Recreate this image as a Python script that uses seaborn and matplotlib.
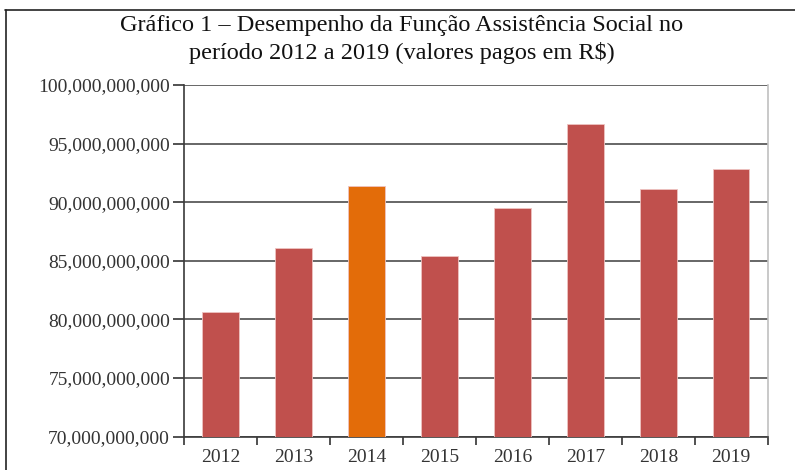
import matplotlib
matplotlib.use("Agg")
import matplotlib.pyplot as plt
import matplotlib.ticker as mticker
from matplotlib.lines import Line2D
import seaborn as sns
import pandas as pd

anos = ["2012", "2013", "2014", "2015", "2016", "2017", "2018", "2019"]
valores_bi = [80.6, 86.1, 91.4, 85.4, 89.5, 96.7, 91.1, 92.8]
destaque = ["2014"]

valores = [v * 1e9 for v in valores_bi]
df = pd.DataFrame({"ano": anos, "valor": valores,
                   "grupo": ["d" if a in destaque else "n" for a in anos]})

sns.set_theme(style="white")
plt.rcParams["font.family"] = ["Liberation Serif", "DejaVu Serif"]

fig = plt.figure(figsize=(7.95, 4.70), dpi=100)
ax = fig.add_axes([0.2314, 0.0709, 0.7343, 0.7482])

sns.barplot(data=df, x="ano", y="valor", hue="grupo",
            palette={"n": "#C0504D", "d": "#E36C09"}, saturation=1,
            width=0.5, dodge=False, legend=False, ax=ax,
            edgecolor="#eec3c1", linewidth=0.6, zorder=3)

ax.set_ylim(70e9, 100e9)
ax.set_xlim(-0.5, len(anos) - 0.5)
ax.yaxis.set_major_locator(mticker.MultipleLocator(5e9))
ax.yaxis.set_major_formatter(mticker.FuncFormatter(lambda v, p: f"{v:,.0f}"))
ax.grid(axis="y", color="#4d4d4d", linewidth=1.2, zorder=0)
ax.set_axisbelow(True)
ax.set_xlabel("")
ax.set_ylabel("")

# category boundaries carry the tick marks; labels sit at bar centres
ax.xaxis.set_minor_locator(mticker.FixedLocator([i - 0.5 for i in range(len(anos) + 1)]))
ax.tick_params(axis="x", which="major", length=0, pad=9, labelsize=14, colors="#333333")
ax.tick_params(axis="x", which="minor", bottom=True, length=6, width=1.2, color="#333333")
ax.tick_params(axis="y", left=True, length=8, width=1.2, color="#333333",
               labelsize=14, labelcolor="#333333", pad=2)

for side in ("left", "bottom"):
    ax.spines[side].set_color("#3a3a3a")
    ax.spines[side].set_linewidth(1.2)
ax.spines["right"].set_color("#c0c0c0")
ax.spines["right"].set_linewidth(1.2)
ax.spines["top"].set_visible(False)

fig.text(0.505, 0.945, "Gráfico 1 – Desempenho da Função Assistência Social no",
         ha="center", va="center", fontsize=17.5, color="#111111")
fig.text(0.505, 0.888, "período 2012 a 2019 (valores pagos em R$)",
         ha="center", va="center", fontsize=17.5, color="#111111")

# page frame lines
fig.add_artist(Line2D([0.006, 1.0], [0.979, 0.979], color="#222222", linewidth=1.2,
                      transform=fig.transFigure))
fig.add_artist(Line2D([0.007, 0.007], [0.0, 0.979], color="#222222", linewidth=1.2,
                      transform=fig.transFigure))

fig.savefig("out.png", dpi=100)
